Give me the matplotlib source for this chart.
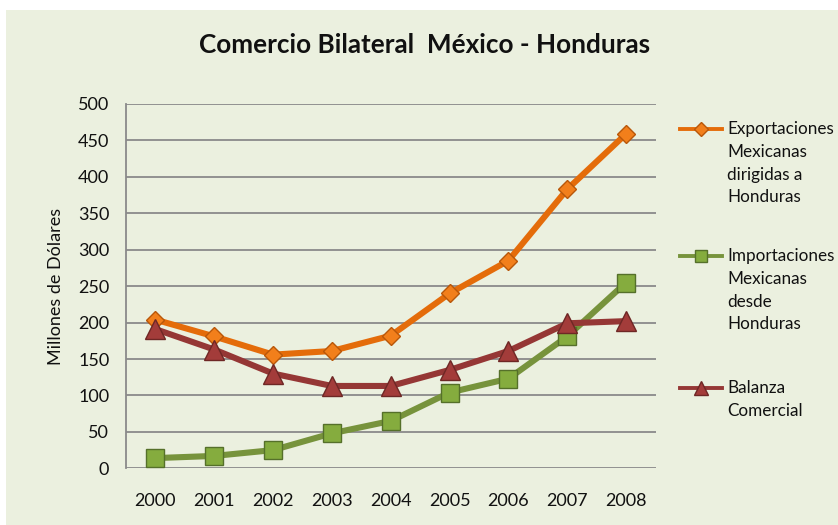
import matplotlib
matplotlib.use("Agg")
import matplotlib.pyplot as plt
from matplotlib.lines import Line2D
from matplotlib.patches import Rectangle

years = ["2000", "2001", "2002", "2003", "2004", "2005", "2006", "2007", "2008"]
exportaciones = [204, 181, 156, 161, 182, 240, 285, 383, 459]
importaciones = [14, 17, 25, 48, 65, 104, 123, 181, 255]
balanza = [191, 163, 130, 113, 113, 135, 161, 199, 202]
labels = ["Exportaciones\nMexicanas\ndirigidas a\nHonduras",
          "Importaciones\nMexicanas\ndesde\nHonduras",
          "Balanza\nComercial"]
yticks = [0, 50, 100, 150, 200, 250, 300, 350, 400, 450, 500]

plt.rcParams['font.family'] = ['Lato', 'DejaVu Sans']

W, H = 838, 525
fig = plt.figure(figsize=(W / 100, H / 100), dpi=100)
fig.patch.set_facecolor("white")
bg = "#EBF0DF"
fig.patches.append(Rectangle((6 / W, 0), 1 - 6 / W, 1 - 9.5 / H,
                             transform=fig.transFigure, facecolor=bg,
                             edgecolor="none", zorder=-10))

ax = fig.add_axes([126 / W, 1 - 468.3 / H, (655.5 - 126) / W, (468.3 - 104) / H])
ax.set_facecolor(bg)

series = [
    (exportaciones, dict(color="#E46C0A", marker="D", ms=9.5, mfc="#F27F1B", mec="#B8570A", mew=1.0)),
    (importaciones, dict(color="#77933C", marker="s", ms=13.5, mfc="#85AC3E", mec="#55702A", mew=1.0)),
    (balanza, dict(color="#953735", marker="^", ms=15, mfc="#A33C3A", mec="#6E2725", mew=1.0)),
]
x = list(range(len(years)))
for vals, st in series:
    ax.plot(x, vals, lw=4.4, solid_joinstyle="round", solid_capstyle="round", zorder=3, **st)

ax.set_xlim(-0.5, len(years) - 0.5)
ax.set_ylim(0, 500)
ax.set_yticks(yticks)
ax.set_xticks(x)
ax.set_xticklabels(years)
ax.yaxis.grid(True, color="#8A8A8A", lw=1.3)
ax.set_axisbelow(True)
for s in ["top", "right", "bottom"]:
    ax.spines[s].set_visible(False)
ax.spines["left"].set_color("#8A8A8A")
ax.spines["left"].set_linewidth(1.3)
fs = 13
ax.tick_params(axis="both", length=0, labelsize=fs, colors="#111111")
ax.tick_params(axis="y", pad=12)
ax.tick_params(axis="x", pad=18)
ax.set_ylabel("Millones de Dólares", fontsize=13, labelpad=10, color="#111111")

fig.text(425 / W, 1 - 45 / H, "Comercio Bilateral  México - Honduras",
         ha="center", va="center", fontsize=18.8, fontweight="bold", color="#111111")

# legend
leg_y = [129, 256, 388]
lfs = 12.3
for (vals, st), lab, yy in zip(series, labels, leg_y):
    yf = 1 - yy / H
    ms = {"D": 7, "s": 8, "^": 10}[st["marker"]]
    st2 = dict(st)
    st2["ms"] = ms
    fig.add_artist(Line2D([680 / W, 722 / W], [yf, yf], transform=fig.transFigure,
                          lw=2.8, markevery=[], **st2))
    fig.add_artist(Line2D([701 / W], [yf], transform=fig.transFigure, lw=0, **st2))
    fig.text(727 / W, 1 - (yy - 8) / H, lab, ha="left", va="top", fontsize=lfs,
             linespacing=1.52, color="#111111")

fig.savefig("out.png", dpi=100, facecolor="white")
